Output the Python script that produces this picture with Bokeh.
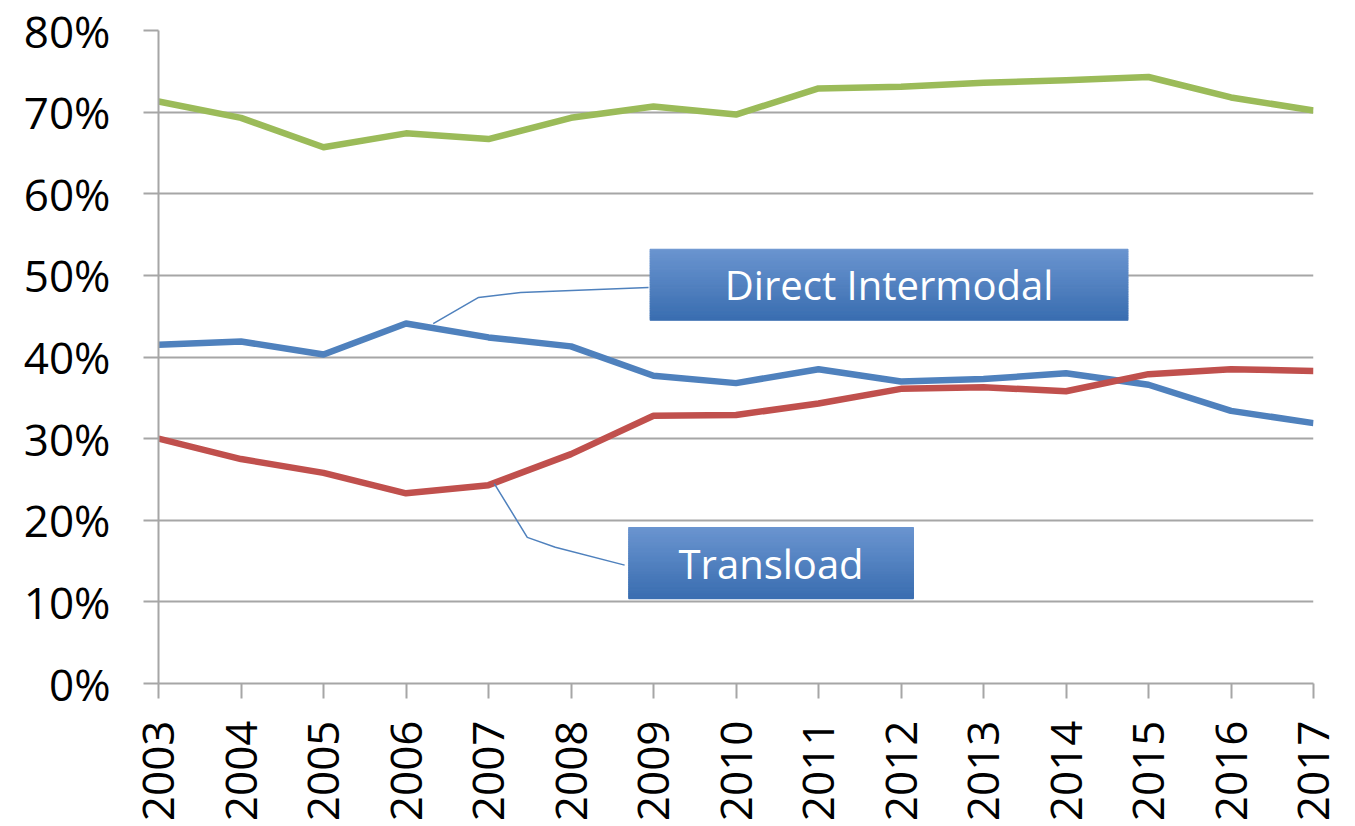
import numpy as np
from bokeh.plotting import figure
from bokeh.models import FixedTicker, ColumnDataSource
from bokeh.core.properties import value
from bokeh.embed import file_html
from bokeh.resources import INLINE

years = list(range(2003, 2018))
other = [71.3, 69.3, 65.7, 67.4, 66.7, 69.3, 70.7, 69.7, 72.9, 73.1, 73.6, 73.9, 74.3, 71.8, 70.2]
direct_intermodal = [41.5, 41.9, 40.3, 44.1, 42.4, 41.3, 37.7, 36.8, 38.5, 37.0, 37.3, 38.0, 36.6, 33.4, 31.9]
transload = [30.0, 27.5, 25.8, 23.3, 24.3, 28.1, 32.8, 32.9, 34.3, 36.1, 36.3, 35.8, 37.9, 38.5, 38.3]
y_ticks = [0, 10, 20, 30, 40, 50, 60, 70, 80]

FONT = "Open Sans"
GRID = "#A6A6A6"

p = figure(frame_width=1155, frame_height=653, x_range=(2003, 2017), y_range=(0, 80),
           output_backend="svg", toolbar_location=None,
           min_border_left=158, min_border_right=34, min_border_top=30, min_border_bottom=135)
p.outline_line_color = None
p.background_fill_color = "white"
p.border_fill_color = "white"

p.xgrid.grid_line_color = None
p.ygrid.grid_line_color = GRID
p.ygrid.grid_line_width = 2
p.yaxis.ticker = FixedTicker(ticks=y_ticks)
p.yaxis.major_label_overrides = {t: f"{t}%" for t in y_ticks}
p.xaxis.ticker = FixedTicker(ticks=years)
p.xaxis.major_label_overrides = {y: str(y) for y in years}
p.xaxis.major_label_orientation = np.pi / 2

for ax in (p.xaxis, p.yaxis):
    ax.axis_line_color = GRID
    ax.axis_line_width = 2
    ax.major_tick_line_color = GRID
    ax.major_tick_line_width = 2
    ax.major_tick_out = 15
    ax.major_tick_in = 0
    ax.minor_tick_line_color = None
    ax.major_label_text_font = FONT
    ax.major_label_text_font_size = "44px"
    ax.major_label_text_color = "black"
p.yaxis.major_label_standoff = 33
p.xaxis.major_label_standoff = 22

src = ColumnDataSource(dict(year=years, other=other, di=direct_intermodal, tl=transload))
p.line("year", "other", source=src, line_color="#9BBB59", line_width=6.5, line_join="round")
p.line("year", "di", source=src, line_color="#4F81BD", line_width=6.5, line_join="round")
p.line("year", "tl", source=src, line_color="#C0504D", line_width=6.5, line_join="round")

# leader lines
p.line([2006.33, 2006.88, 2007.39, 2008.94], [44.1, 47.3, 47.9, 48.5], line_color="#4F81BD", line_width=1.5)
p.line([2007.07, 2007.47, 2007.81, 2008.65], [24.5, 17.9, 16.7, 14.5], line_color="#4F81BD", line_width=1.5)

# gradient boxes
top_c = np.array([106, 148, 207])
bot_c = np.array([58, 110, 177])

def gbox(x0, x1, y0, y1, label):
    n = 30
    edges = np.linspace(y1, y0, n + 1)
    cols = []
    for i in range(n):
        f = i / (n - 1)
        c = top_c * (1 - f) + bot_c * f
        cols.append("#%02x%02x%02x" % tuple(int(round(v)) for v in c))
    p.quad(left=[x0] * n, right=[x1] * n, top=list(edges[:-1]), bottom=list(edges[1:]),
           fill_color=cols, line_color=cols, line_width=1.2)
    p.text([(x0 + x1) / 2], [(y0 + y1) / 2], text=[label], text_color="white",
           text_font=value(FONT), text_font_size="40px", text_align="center", text_baseline="middle")

gbox(2008.96, 2014.75, 44.5, 53.2, "Direct Intermodal")
gbox(2008.70, 2012.15, 10.4, 19.1, "Transload")

open("out.html", "w").write(file_html(p, INLINE))
